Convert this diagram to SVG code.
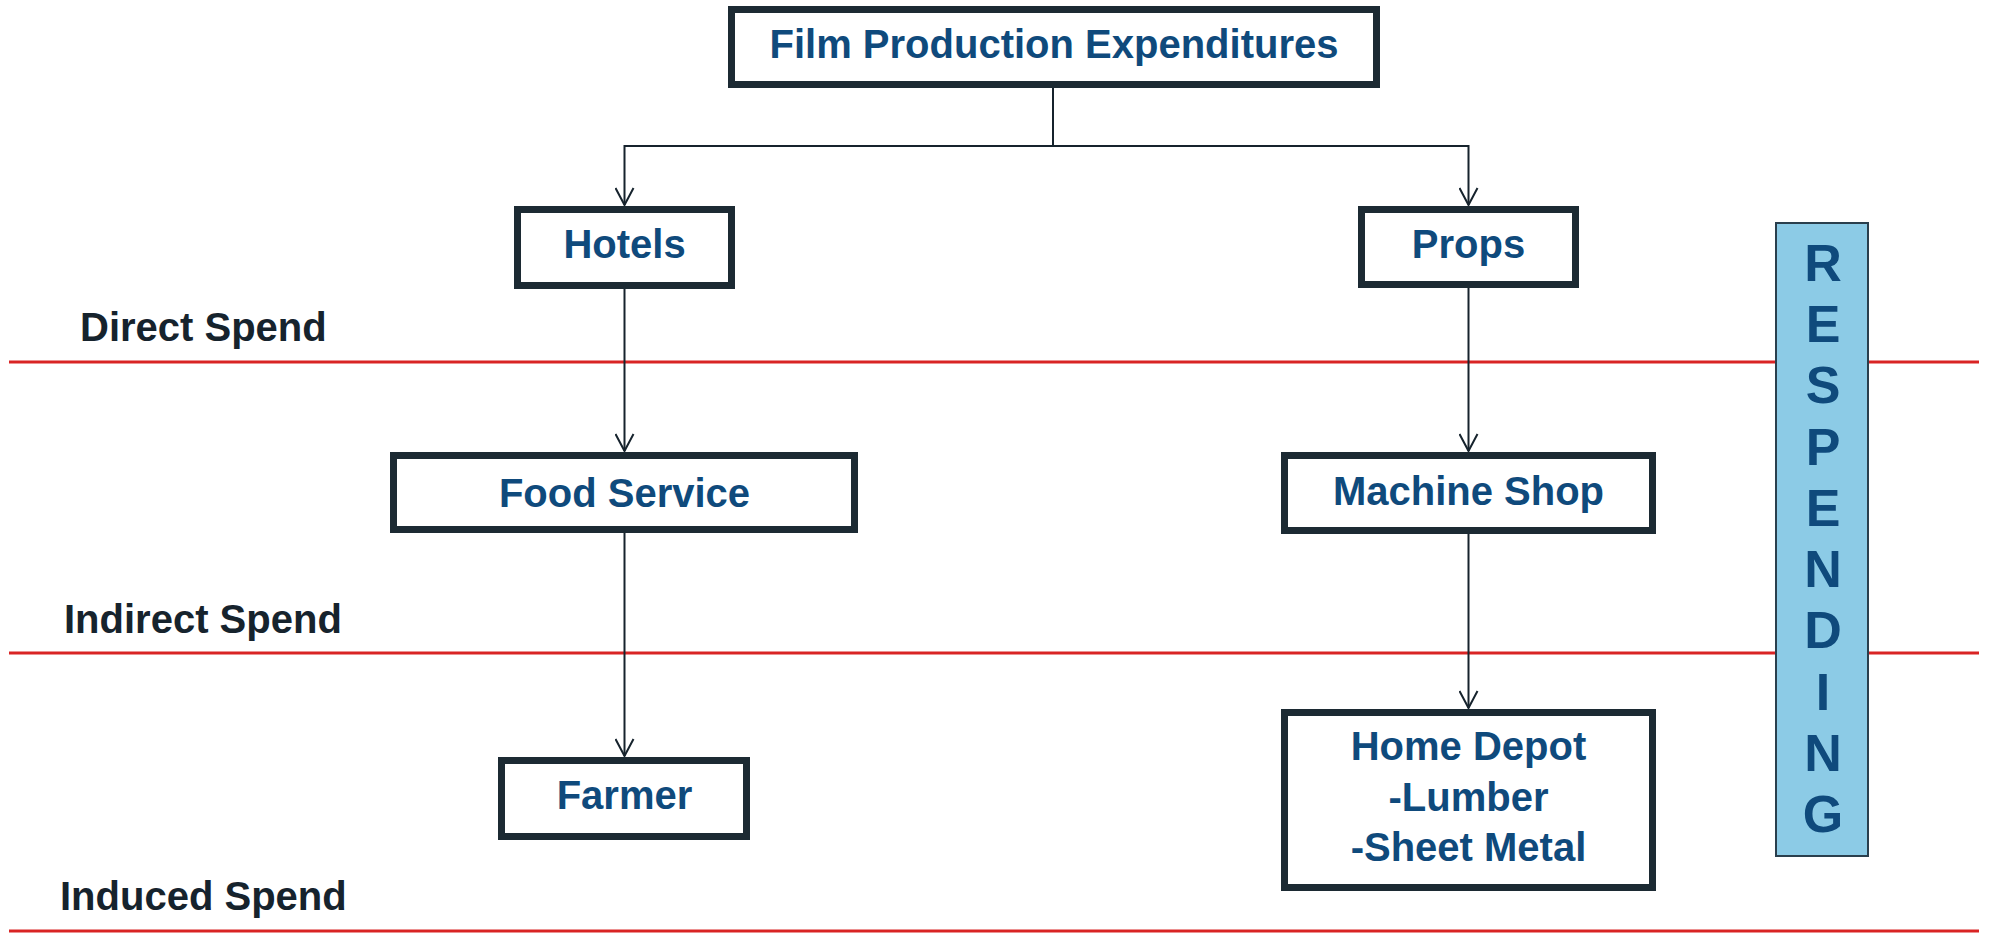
<svg xmlns="http://www.w3.org/2000/svg" width="1992" height="934" viewBox="0 0 1992 934">
<style>
.box{fill:#ffffff;stroke:#1c2a33;stroke-width:7}
.nt{font-family:"Liberation Sans",Arial,sans-serif;font-weight:bold;font-size:40px;fill:#0f4a7c;text-anchor:middle}
.lbl{font-family:"Liberation Sans",Arial,sans-serif;font-weight:bold;font-size:40px;fill:#16232d}
.rl{stroke:#d92424;stroke-width:3;fill:none}
.conn{stroke:#16232d;stroke-width:2;fill:none}
.rsp{font-family:"Liberation Sans",Arial,sans-serif;font-weight:bold;font-size:52px;fill:#0f4a7c;text-anchor:middle}
</style>
<defs>
<marker id="arr" viewBox="0 0 20 20" refX="18" refY="10" markerWidth="20" markerHeight="20" markerUnits="userSpaceOnUse" orient="auto">
<path d="M1,1 L18,10 L1,19" fill="none" stroke="#16232d" stroke-width="2"/>
</marker>
</defs>
<rect width="1992" height="934" fill="#ffffff"/>
<g id="bands">
<line class="rl" x1="9" y1="362" x2="1979" y2="362"/>
<line class="rl" x1="9" y1="653" x2="1979" y2="653"/>
<line class="rl" x1="9" y1="931" x2="1979" y2="931"/>
<text class="lbl" x="80" y="341">Direct Spend</text>
<text class="lbl" x="64" y="633">Indirect Spend</text>
<text class="lbl" x="60" y="910">Induced Spend</text>
</g>
<g id="connectors">
<path class="conn" d="M1053,88 V146 H624.5 V205" marker-end="url(#arr)"/>
<path class="conn" d="M1053,146 H1468.5 V205" marker-end="url(#arr)"/>
<path class="conn" d="M624.5,289 V451" marker-end="url(#arr)"/>
<path class="conn" d="M624.5,533 V756" marker-end="url(#arr)"/>
<path class="conn" d="M1468.5,287 V451" marker-end="url(#arr)"/>
<path class="conn" d="M1468.5,534 V708" marker-end="url(#arr)"/>
</g>
<g id="title">
<rect class="box" x="731.5" y="9.5" width="645" height="75"/>
<text class="nt" x="1054" y="58">Film Production Expenditures</text>
</g>
<g id="hotels">
<rect class="box" x="517.5" y="209.5" width="214" height="76"/>
<text class="nt" x="624.5" y="258">Hotels</text>
</g>
<g id="props">
<rect class="box" x="1361.5" y="209.5" width="214" height="75"/>
<text class="nt" x="1468.5" y="258">Props</text>
</g>
<g id="food-service">
<rect class="box" x="393.5" y="455.5" width="461" height="74"/>
<text class="nt" x="624.5" y="507">Food Service</text>
</g>
<g id="machine-shop">
<rect class="box" x="1284.5" y="455.5" width="368" height="75"/>
<text class="nt" x="1468.5" y="505">Machine Shop</text>
</g>
<g id="farmer">
<rect class="box" x="501.5" y="760.5" width="245" height="76"/>
<text class="nt" x="624.5" y="809">Farmer</text>
</g>
<g id="home-depot">
<rect class="box" x="1284.5" y="712.5" width="368" height="175"/>
<text class="nt" x="1468.5" y="760">Home Depot</text>
<text class="nt" x="1468.5" y="811">-Lumber</text>
<text class="nt" x="1468.5" y="861">-Sheet Metal</text>
</g>
<g id="respending">
<rect x="1776" y="223" width="92" height="633" fill="#8ccbe6" stroke="#2a3f4d" stroke-width="2"/>
<text class="rsp" x="1823" y="281">R</text>
<text class="rsp" x="1823" y="342">E</text>
<text class="rsp" x="1823" y="403">S</text>
<text class="rsp" x="1823" y="465">P</text>
<text class="rsp" x="1823" y="526">E</text>
<text class="rsp" x="1823" y="587">N</text>
<text class="rsp" x="1823" y="648">D</text>
<text class="rsp" x="1823" y="710">I</text>
<text class="rsp" x="1823" y="771">N</text>
<text class="rsp" x="1823" y="832">G</text>
</g>
</svg>
